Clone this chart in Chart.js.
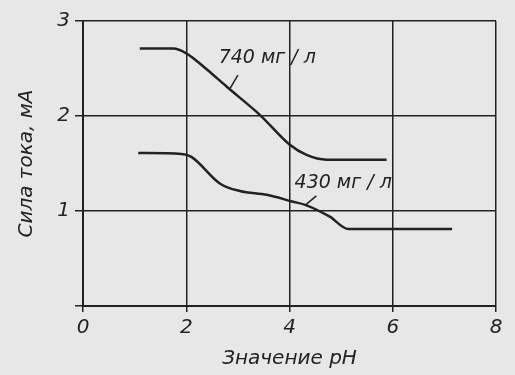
<!DOCTYPE html>
<html>
<head>
<meta charset="utf-8">
<script src="https://cdn.jsdelivr.net/npm/chart.js@4/dist/chart.umd.min.js"></script>
<style>
    html, body { margin: 0; padding: 0; background: #e7e7e7; }
    #wrap { width: 515px; height: 375px; }
</style>
</head>
<body>
<div id="wrap"><canvas id="phChart" width="515" height="375"></canvas></div>
<script>
// pH values and current (mA) for the two concentrations
const ph740 = [1.1, 1.75, 2.0, 2.4, 2.78, 3.43, 4.0, 4.33, 4.72, 5.88];
const mA740 = [2.71, 2.71, 2.66, 2.49, 2.31, 2.01, 1.70, 1.59, 1.54, 1.54];

const ph430 = [1.07, 1.91, 2.1, 2.65, 3.04, 3.56, 4.05, 4.33, 4.78, 5.14, 7.15];
const mA430 = [1.61, 1.60, 1.57, 1.29, 1.21, 1.17, 1.10, 1.06, 0.94, 0.81, 0.81];

const xTicks = [0, 2, 4, 6, 8];
const yTicks = [0, 1, 2, 3];

// curve labels: text, label centre, leader line start/end (data units)
const curveLabels = [
    { text: '740 мг / л', x: 3.57, y: 2.61, from: [2.85, 2.29], to: [3.0, 2.43] },
    { text: '430 мг / л', x: 5.04, y: 1.29, from: [4.3, 1.06], to: [4.52, 1.16] }
];

const ink = '#222222';
const font = 'DejaVu Sans, Verdana, sans-serif';

const toPoints = (xs, ys) => xs.map((x, i) => ({ x: x, y: ys[i] }));

const labelPlugin = {
    id: 'curveLabels',
    afterDatasetsDraw(chart) {
        const ctx = chart.ctx;
        const xs = chart.scales.x, ys = chart.scales.y;
        ctx.save();
        ctx.fillStyle = ink;
        ctx.strokeStyle = ink;
        ctx.lineWidth = 1.5;
        ctx.font = 'oblique 19px ' + font;
        ctx.textAlign = 'center';
        ctx.textBaseline = 'middle';
        curveLabels.forEach(l => {
            ctx.fillText(l.text, xs.getPixelForValue(l.x), ys.getPixelForValue(l.y));
            ctx.beginPath();
            ctx.moveTo(xs.getPixelForValue(l.from[0]), ys.getPixelForValue(l.from[1]));
            ctx.lineTo(xs.getPixelForValue(l.to[0]), ys.getPixelForValue(l.to[1]));
            ctx.stroke();
        });
        ctx.restore();
    }
};

document.addEventListener('DOMContentLoaded', function() {
    const ctx = document.getElementById('phChart').getContext('2d');

    new Chart(ctx, {
        type: 'line',
        data: {
            datasets: [
                { label: '740', data: toPoints(ph740, mA740) },
                { label: '430', data: toPoints(ph430, mA430) }
            ]
        },
        options: {
            responsive: false,
            animation: false,
            events: [],
            layout: { padding: { top: 21, right: 19, left: 0, bottom: 0 } },
            elements: {
                line: { borderColor: ink, borderWidth: 2.5, cubicInterpolationMode: 'monotone', fill: false },
                point: { radius: 0 }
            },
            scales: {
                x: {
                    type: 'linear',
                    min: 0,
                    max: 8,
                    afterFit: s => { s.height = 69; },
                    afterBuildTicks: s => { s.ticks = xTicks.map(v => ({ value: v })); },
                    grid: { color: ink, lineWidth: 1.5, tickLength: 6, drawTicks: true },
                    border: { color: ink, width: 2 },
                    ticks: { color: ink, padding: 4, font: { family: font, size: 20, style: 'oblique' } },
                    title: {
                        display: true,
                        text: 'Значение pH',
                        color: ink,
                        padding: { top: 6 },
                        font: { family: font, size: 20, style: 'oblique' }
                    }
                },
                y: {
                    type: 'linear',
                    min: 0,
                    max: 3,
                    afterFit: s => { s.width = 83; },
                    afterBuildTicks: s => { s.ticks = yTicks.map(v => ({ value: v })); },
                    grid: { color: ink, lineWidth: 1.5, tickLength: 8, drawTicks: true },
                    border: { color: ink, width: 2 },
                    ticks: {
                        color: ink,
                        padding: 5,
                        font: { family: font, size: 20, style: 'oblique' },
                        callback: v => (v === 0 ? '' : v)
                    },
                    title: {
                        display: true,
                        text: 'Сила тока, мА',
                        color: ink,
                        padding: { top: 15, bottom: 0 },
                        font: { family: font, size: 20, style: 'oblique' }
                    }
                }
            },
            plugins: {
                legend: { display: false },
                tooltip: { enabled: false }
            }
        },
        plugins: [labelPlugin]
    });
});
</script>
</body>
</html>
